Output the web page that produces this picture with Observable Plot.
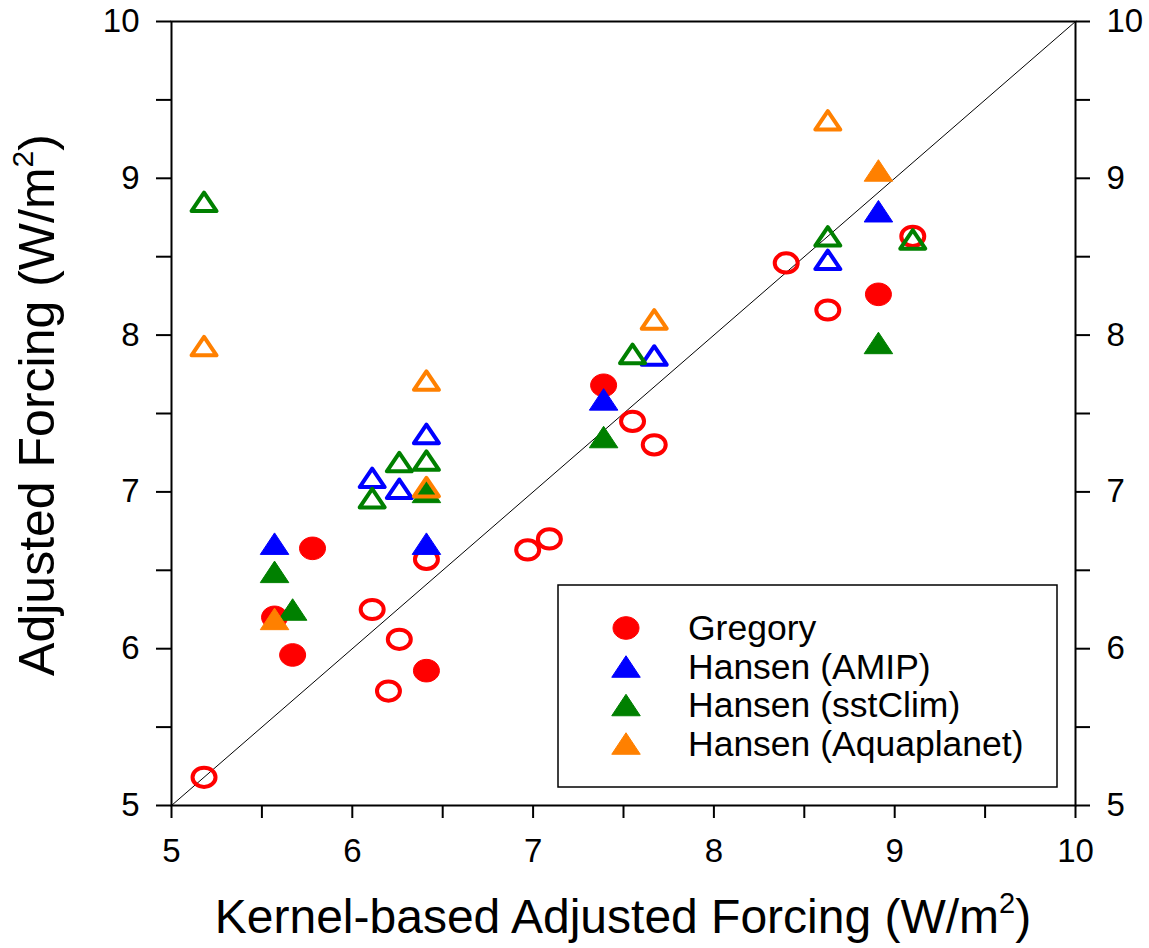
<!DOCTYPE html>
<html><head><meta charset="utf-8">
<script src="https://cdn.jsdelivr.net/npm/d3@7"></script>
<script src="https://cdn.jsdelivr.net/npm/@observablehq/plot@0.6"></script>
<style>
html,body{margin:0;padding:0;background:#fff;}
#chart{position:relative;width:1149px;height:948px;}
svg{font-family:"Liberation Sans", Arial, sans-serif;}
</style></head><body><div id="chart"></div>
<script>
// ---- data ----
const gregoryFilledX = [5.57, 5.67, 5.78, 6.41, 7.39, 8.91];
const gregoryFilledY = [6.20, 5.96, 6.64, 5.86, 7.68, 8.26];
const gregoryOpenX = [5.18, 6.11, 6.20, 6.26, 6.41, 6.97, 7.09, 7.55, 7.67, 8.40, 8.63, 9.10];
const gregoryOpenY = [5.18, 6.25, 5.73, 6.06, 6.57, 6.63, 6.70, 7.45, 7.30, 8.46, 8.16, 8.63];
const amipFilledX = [5.57, 6.41, 7.39, 8.91];
const amipFilledY = [6.67, 6.67, 7.59, 8.79];
const amipOpenX = [6.11, 6.26, 6.41, 7.67, 8.63];
const amipOpenY = [7.09, 7.02, 7.37, 7.87, 8.48];
const sstFilledX = [5.57, 5.67, 6.41, 7.39, 8.91];
const sstFilledY = [6.49, 6.25, 7.00, 7.35, 7.95];
const sstOpenX = [5.18, 6.11, 6.26, 6.41, 7.55, 8.63, 9.10];
const sstOpenY = [8.85, 6.96, 7.19, 7.20, 7.88, 8.63, 8.61];
const aquaFilledX = [5.57, 8.91];
const aquaFilledY = [6.19, 9.05];
const aquaOpenX = [5.18, 6.41, 6.41, 7.67, 8.63];
const aquaOpenY = [7.93, 7.71, 7.03, 8.10, 9.37];

const seriesNames = ["Gregory", "Hansen (AMIP)", "Hansen (sstClim)", "Hansen (Aquaplanet)"];
const seriesColors = ["#ff0000", "#0000ff", "#008000", "#ff8000"];
const tickValues = [5, 5.5, 6, 6.5, 7, 7.5, 8, 8.5, 9, 9.5, 10];
const tickLabels = ["5", "", "6", "", "7", "", "8", "", "9", "", "10"];
const diagonal = [5, 10];
const xTitle = "Kernel-based Adjusted Forcing (W/m";
const yTitle = "Adjusted Forcing (W/m";

// ---- symbols ----
function ellipse(rx, ry) {
  return {draw(ctx) {
    const k = 0.5523;
    ctx.moveTo(rx, 0);
    ctx.bezierCurveTo(rx, k*ry, k*rx, ry, 0, ry);
    ctx.bezierCurveTo(-k*rx, ry, -rx, k*ry, -rx, 0);
    ctx.bezierCurveTo(-rx, -k*ry, -k*rx, -ry, 0, -ry);
    ctx.bezierCurveTo(k*rx, -ry, rx, -k*ry, rx, 0);
    ctx.closePath();
  }};
}
function tri(w, h) {
  return {draw(ctx) {
    ctx.moveTo(0, -h/2);
    ctx.lineTo(w/2, h/2);
    ctx.lineTo(-w/2, h/2);
    ctx.closePath();
  }};
}
const circFilled = ellipse(13, 11.3);
const circOpen = ellipse(11.5, 9.6);
const triFilled = tri(28.5, 21.5);
const triOpen = tri(25, 18.5);

const rows = (xs, ys) => xs.map((x, i) => ({x, y: ys[i]}));
const openDots = (xs, ys, sym, c) => Plot.dot(rows(xs, ys), {x: "x", y: "y", symbol: sym, r: 10, fill: "none", stroke: c, strokeWidth: 4, strokeLinejoin: "round"});
const filledDots = (xs, ys, sym, c) => Plot.dot(rows(xs, ys), {x: "x", y: "y", symbol: sym, r: 10, fill: c, stroke: c, strokeWidth: 1, strokeLinejoin: "round"});
const fmt = d => tickLabels[tickValues.indexOf(d)] ?? "";

const plot = Plot.plot({
  width: 1149, height: 948,
  marginLeft: 171, marginRight: 74, marginTop: 21, marginBottom: 143,
  x: {domain: [5, 10]},
  y: {domain: [5, 10]},
  style: {fontFamily: '"Liberation Sans", Arial, sans-serif', background: "white", color: "black"},
  marks: [
    Plot.line(diagonal, {x: d => d, y: d => d, stroke: "black", strokeWidth: 1}),
    openDots(gregoryOpenX, gregoryOpenY, circOpen, seriesColors[0]),
    filledDots(gregoryFilledX, gregoryFilledY, circFilled, seriesColors[0]),
    openDots(amipOpenX, amipOpenY, triOpen, seriesColors[1]),
    filledDots(amipFilledX, amipFilledY, triFilled, seriesColors[1]),
    openDots(sstOpenX, sstOpenY, triOpen, seriesColors[2]),
    filledDots(sstFilledX, sstFilledY, triFilled, seriesColors[2]),
    openDots(aquaOpenX, aquaOpenY, triOpen, seriesColors[3]),
    filledDots(aquaFilledX, aquaFilledY, triFilled, seriesColors[3]),
    Plot.frame({stroke: "black", strokeWidth: 2}),
    Plot.axisX({anchor: "bottom", ticks: tickValues, tickFormat: fmt, tickSize: 13, tickPadding: 20, strokeWidth: 2, fontSize: 33, label: null}),
    Plot.axisY({anchor: "left", ticks: tickValues, tickFormat: fmt, tickSize: 15, tickPadding: 17, strokeWidth: 2, fontSize: 33, label: null}),
    Plot.axisY({anchor: "right", ticks: tickValues, tickFormat: fmt, tickSize: 14, tickPadding: 17, strokeWidth: 2, fontSize: 33, label: null})
  ]
});
document.getElementById("chart").appendChild(plot);

// ---- titles ----
const svg = d3.select(plot);
const xt = svg.append("text").attr("x", 623).attr("y", 933).attr("text-anchor", "middle")
  .attr("font-size", 48).attr("fill", "black");
xt.append("tspan").text(xTitle);
xt.append("tspan").attr("font-size", 29).attr("dy", -20).text("2");
xt.append("tspan").attr("dy", 20).text(")");

const yt = svg.append("text").attr("transform", "translate(54,405) rotate(-90)").attr("text-anchor", "middle")
  .attr("font-size", 50).attr("fill", "black");
yt.append("tspan").text(yTitle);
yt.append("tspan").attr("font-size", 30).attr("dy", -21).text("2");
yt.append("tspan").attr("dy", 21).text(")");

// ---- legend ----
const lg = svg.append("g");
lg.append("rect").attr("x", 558).attr("y", 585).attr("width", 499).attr("height", 202)
  .attr("fill", "white").attr("stroke", "black").attr("stroke-width", 1.5);
const legendSyms = [circFilled, triFilled, triFilled, triFilled];
seriesNames.forEach((name, i) => {
  const cy = 628 + i * 38.5;
  lg.append("path").attr("transform", `translate(626,${cy})`)
    .attr("d", d3.symbol(legendSyms[i])())
    .attr("fill", seriesColors[i]).attr("stroke", seriesColors[i]).attr("stroke-linejoin", "round");
  lg.append("text").attr("x", 688).attr("y", cy + 12).attr("text-anchor", "start")
    .attr("font-size", 35.5).attr("fill", "black").text(name);
});
</script></body></html>
